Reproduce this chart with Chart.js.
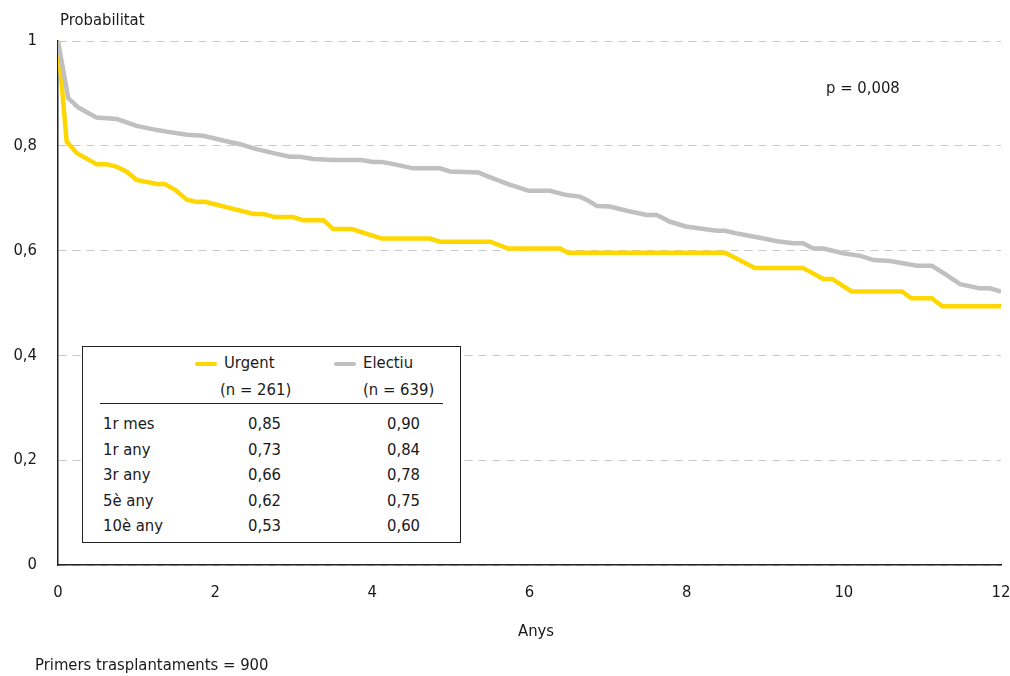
<!DOCTYPE html>
<html>
<head>
<meta charset="utf-8">
<script src="https://cdn.jsdelivr.net/npm/chart.js@4.4.1/dist/chart.umd.min.js"></script>
<style>
  body { margin: 0; background: #fff; }
  #wrap { position: relative; width: 1010px; height: 676px; font-family: "Liberation Sans Narrow", "DejaVu Sans Condensed", sans-serif; color: #1a1a1a; }
  .txt { position: absolute; font-size: 16.5px; white-space: nowrap; }
  #box { position: absolute; left: 82px; top: 346px; width: 377px; height: 195px; border: 1.5px solid #222; background: #fff; }
  .sw { position: absolute; height: 4px; width: 22px; border-radius: 2px; }
</style>
</head>
<body>
<div id="wrap">
  <canvas id="chart" width="1010" height="676"></canvas>
  <div class="txt" style="left:60px; top:10px;">Probabilitat</div>
  <div class="txt" style="left:826px; top:78px;">p = 0,008</div>
  <div class="txt" style="left:518px; top:621px;">Anys</div>
  <div class="txt" style="left:35px; top:655px;">Primers trasplantaments = 900</div>
  <div id="box"></div>
</div>
<script>
// Temps (anys) i probabilitat de supervivència
var urgentX = [0, 0.11, 0.24, 0.36, 0.49, 0.62, 0.75, 0.87, 1.0, 1.26, 1.36, 1.49, 1.64, 1.76, 1.87, 2.49, 2.61, 2.76, 2.99, 3.12, 3.38, 3.50, 3.74, 4.12, 4.73, 4.86, 5.50, 5.73, 6.39, 6.49, 8.49, 8.87, 9.48, 9.74, 9.85, 10.10, 10.74, 10.86, 11.12, 11.25, 12];
var urgentY = [1, 0.808, 0.786, 0.776, 0.765, 0.765, 0.760, 0.751, 0.735, 0.727, 0.727, 0.716, 0.697, 0.693, 0.693, 0.670, 0.670, 0.664, 0.664, 0.658, 0.658, 0.641, 0.641, 0.623, 0.623, 0.617, 0.617, 0.604, 0.604, 0.596, 0.596, 0.567, 0.567, 0.546, 0.546, 0.522, 0.522, 0.509, 0.509, 0.494, 0.494];

var electiuX = [0, 0.13, 0.26, 0.49, 0.75, 1.0, 1.26, 1.38, 1.64, 1.85, 2.10, 2.32, 2.49, 2.74, 2.95, 3.08, 3.25, 3.50, 3.86, 4.01, 4.12, 4.27, 4.52, 4.86, 4.99, 5.35, 5.46, 5.71, 5.99, 6.26, 6.47, 6.64, 6.75, 6.86, 7.02, 7.24, 7.49, 7.62, 7.79, 7.99, 8.38, 8.49, 8.66, 8.98, 9.15, 9.36, 9.48, 9.61, 9.74, 9.99, 10.21, 10.38, 10.59, 10.93, 11.12, 11.27, 11.48, 11.73, 11.86, 12];
var electiuY = [1, 0.891, 0.873, 0.854, 0.851, 0.838, 0.830, 0.827, 0.821, 0.819, 0.810, 0.803, 0.795, 0.786, 0.779, 0.779, 0.775, 0.773, 0.773, 0.769, 0.769, 0.765, 0.757, 0.757, 0.751, 0.749, 0.742, 0.728, 0.714, 0.714, 0.706, 0.703, 0.695, 0.685, 0.684, 0.676, 0.668, 0.668, 0.655, 0.646, 0.638, 0.638, 0.632, 0.623, 0.618, 0.614, 0.614, 0.604, 0.604, 0.595, 0.590, 0.582, 0.580, 0.571, 0.571, 0.557, 0.536, 0.528, 0.528, 0.522];

// taula
var seriesNames = ["Urgent", "Electiu"];
var seriesN = ["(n = 261)", "(n = 639)"];
var tableRows = ["1r mes", "1r any", "3r any", "5è any", "10è any"];
var urgentTable = ["0,85", "0,73", "0,66", "0,62", "0,53"];
var electiuTable = ["0,90", "0,84", "0,78", "0,75", "0,60"];

var YELLOW = "#FFD700";
var GREY = "#C0C0C0";
var FONT = "'Liberation Sans Narrow', 'DejaVu Sans Condensed', sans-serif";

function pts(xs, ys) {
  return xs.map((x, i) => ({ x: x, y: ys[i] }));
}

// build the table box
var box = document.getElementById("box");
var html = "";
html += '<div class="sw" style="left:112px; top:15px; background:' + YELLOW + '"></div>';
html += '<div class="txt" style="left:141px; top:6px;">' + seriesNames[0] + '</div>';
html += '<div class="txt" style="left:137px; top:33px;">' + seriesN[0] + '</div>';
html += '<div class="sw" style="left:251px; top:15px; background:' + GREY + '"></div>';
html += '<div class="txt" style="left:280px; top:6px;">' + seriesNames[1] + '</div>';
html += '<div class="txt" style="left:280px; top:33px;">' + seriesN[1] + '</div>';
html += '<div style="position:absolute; left:17px; top:56px; width:343px; height:0; border-top:1.5px solid #222;"></div>';
tableRows.forEach((r, i) => {
  var top = 67 + i * 25.5;
  html += '<div class="txt" style="left:20px; top:' + top + 'px;">' + r + '</div>';
  html += '<div class="txt" style="left:165px; top:' + top + 'px;">' + urgentTable[i] + '</div>';
  html += '<div class="txt" style="left:304px; top:' + top + 'px;">' + electiuTable[i] + '</div>';
});
box.innerHTML = html;

new Chart(document.getElementById("chart"), {
  type: "line",
  data: {
    datasets: [
      {
        label: "Electiu",
        data: pts(electiuX, electiuY),
        borderColor: GREY,
        borderWidth: 4.5,
        pointRadius: 0,
        tension: 0
      },
      {
        label: "Urgent",
        data: pts(urgentX, urgentY),
        borderColor: YELLOW,
        borderWidth: 4.5,
        pointRadius: 0,
        tension: 0
      }
    ]
  },
  options: {
    responsive: false,
    animation: false,
    layout: { padding: { top: 41, right: 9, left: 0, bottom: 0 } },
    plugins: {
      legend: { display: false },
      tooltip: { enabled: false }
    },
    scales: {
      x: {
        type: "linear",
        min: 0,
        max: 12,
        grid: { display: false, drawTicks: false },
        border: { display: true, color: "#222", width: 1.5 },
        ticks: {
          stepSize: 2,
          padding: 18,
          color: "#1a1a1a",
          font: { family: FONT, size: 16.5 }
        },
        afterFit: function (s) {
          s.height = 111;
          s.paddingRight = 0;
          s.paddingLeft = 0;
        }
      },
      y: {
        min: 0,
        max: 1,
        grid: { color: "#c8c8c8", lineWidth: 1, drawTicks: false },
        border: { display: true, color: "#222", width: 1.5, dash: [8, 6] },
        ticks: {
          stepSize: 0.2,
          padding: 21,
          color: "#1a1a1a",
          font: { family: FONT, size: 16.5 },
          callback: v => String(Math.round(v * 10) / 10).replace(".", ",")
        },
        afterFit: function (s) { s.width = 58; }
      }
    }
  }
});
</script>
</body>
</html>
